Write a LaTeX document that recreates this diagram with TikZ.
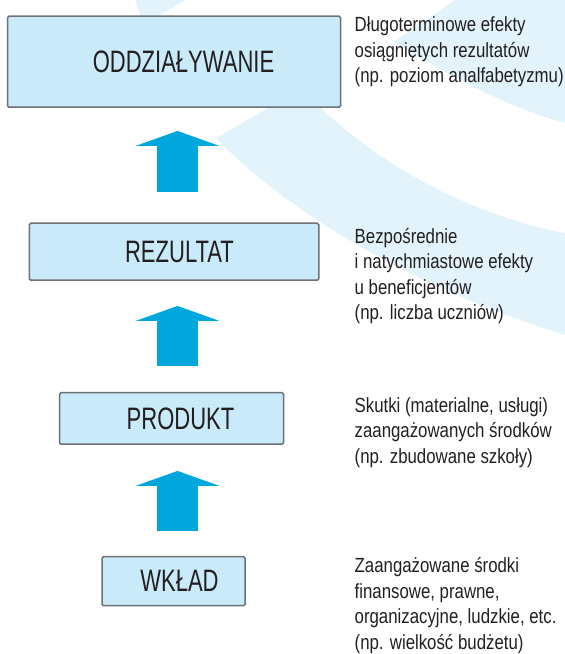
\documentclass[tikz,border=0pt]{standalone}
\usepackage{fontspec}
\setmainfont{Liberation Sans}
\newfontfamily\boxfont[FakeStretch=0.71]{Liberation Sans}
\newfontfamily\notefont[FakeStretch=0.82]{Liberation Sans}
\usepackage{xcolor}
\usetikzlibrary{positioning,arrows.meta}
\definecolor{boxblue}{HTML}{C9EAF9}
\definecolor{boxline}{HTML}{6F7275}
\definecolor{arrowblue}{HTML}{00A7DD}
\definecolor{swooshblue}{HTML}{E2F3FB}
\definecolor{inktext}{HTML}{231F20}

\begin{document}
\begin{tikzpicture}[x=1pt,y=-1pt,node distance=111pt,
    box/.style={draw=boxline,line width=1.5pt,fill=boxblue,rounded corners=1.5pt,
      inner sep=0pt,text=inktext,font=\boxfont\fontsize{31}{36}\selectfont},
    note/.style={anchor=base west,align=left,inner sep=0pt,text=inktext,
      font=\notefont\fontsize{20.5}{25.5}\selectfont},
    bigarrow/.style={arrowblue,line width=41pt,-{Triangle[width=84pt,length=15pt,line width=0pt]}},
    swoosh/.style={fill=swooshblue,draw=none}]
  \useasboundingbox (0,0) rectangle (565,654);
  % background swooshes
  \fill[swoosh] (455,0) -- (394,42) .. controls (440,70) and (500,105) .. (565,123) -- (565,0) -- cycle;
  \fill[swoosh] (216,138) -- (270,107) -- (140,15) -- (135,0) -- (185,0) -- (160,15) -- (320,107)
    .. controls (380,165) and (470,215) .. (565,233) -- (565,335)
    .. controls (420,290) and (290,215) .. cycle;
  % boxes, bottom to top
  \node[box,minimum width=143pt,minimum height=49pt] (inp) at (173.5,581.2) {\hspace*{12pt}WKŁAD};
  \node[box,minimum width=224pt,minimum height=51.5pt,above=of inp,xshift=-2pt] (outp) {\hspace*{18pt}PRODUKT};
  \node[box,minimum width=289.5pt,minimum height=57pt,above=of outp,xshift=2.5pt] (res) {\hspace*{11pt}REZULTAT};
  \node[box,minimum width=333pt,minimum height=91pt,above=114.5pt of res] (imp) {\hspace*{19pt}ODDZIAŁYWANIE};
  \coordinate (spine) at (177.5,0);
  % arrows
  \draw[bigarrow,shorten <=30pt,shorten >=23pt] (res.north -| spine) -- (imp.south -| spine);
  \draw[bigarrow,shorten <=26pt,shorten >=25pt] (outp.north -| spine) -- (res.south -| spine);
  \draw[bigarrow,shorten <=25pt,shorten >=26pt] (inp.north -| spine) -- (outp.south -| spine);
  % descriptions (anchored on the last line)
  \node[note] (nimp) at (354.5,82.5) {Długoterminowe efekty\\osiągniętych rezultatów\\(np. poziom analfabetyzmu)};
  \node[note] (nres) at (354.5,319.5) {Bezpośrednie\\i natychmiastowe efekty\\u beneficjentów\\(np. liczba uczniów)};
  \node[note] (noutp) at (354.5,463) {Skutki (materialne, usługi)\\zaangażowanych środków\\(np. zbudowane szkoły)};
  \node[note] (ninp) at (354.5,649) {Zaangażowane środki\\finansowe, prawne,\\organizacyjne, ludzkie, etc.\\(np. wielkość budżetu)};
\end{tikzpicture}
\end{document}
